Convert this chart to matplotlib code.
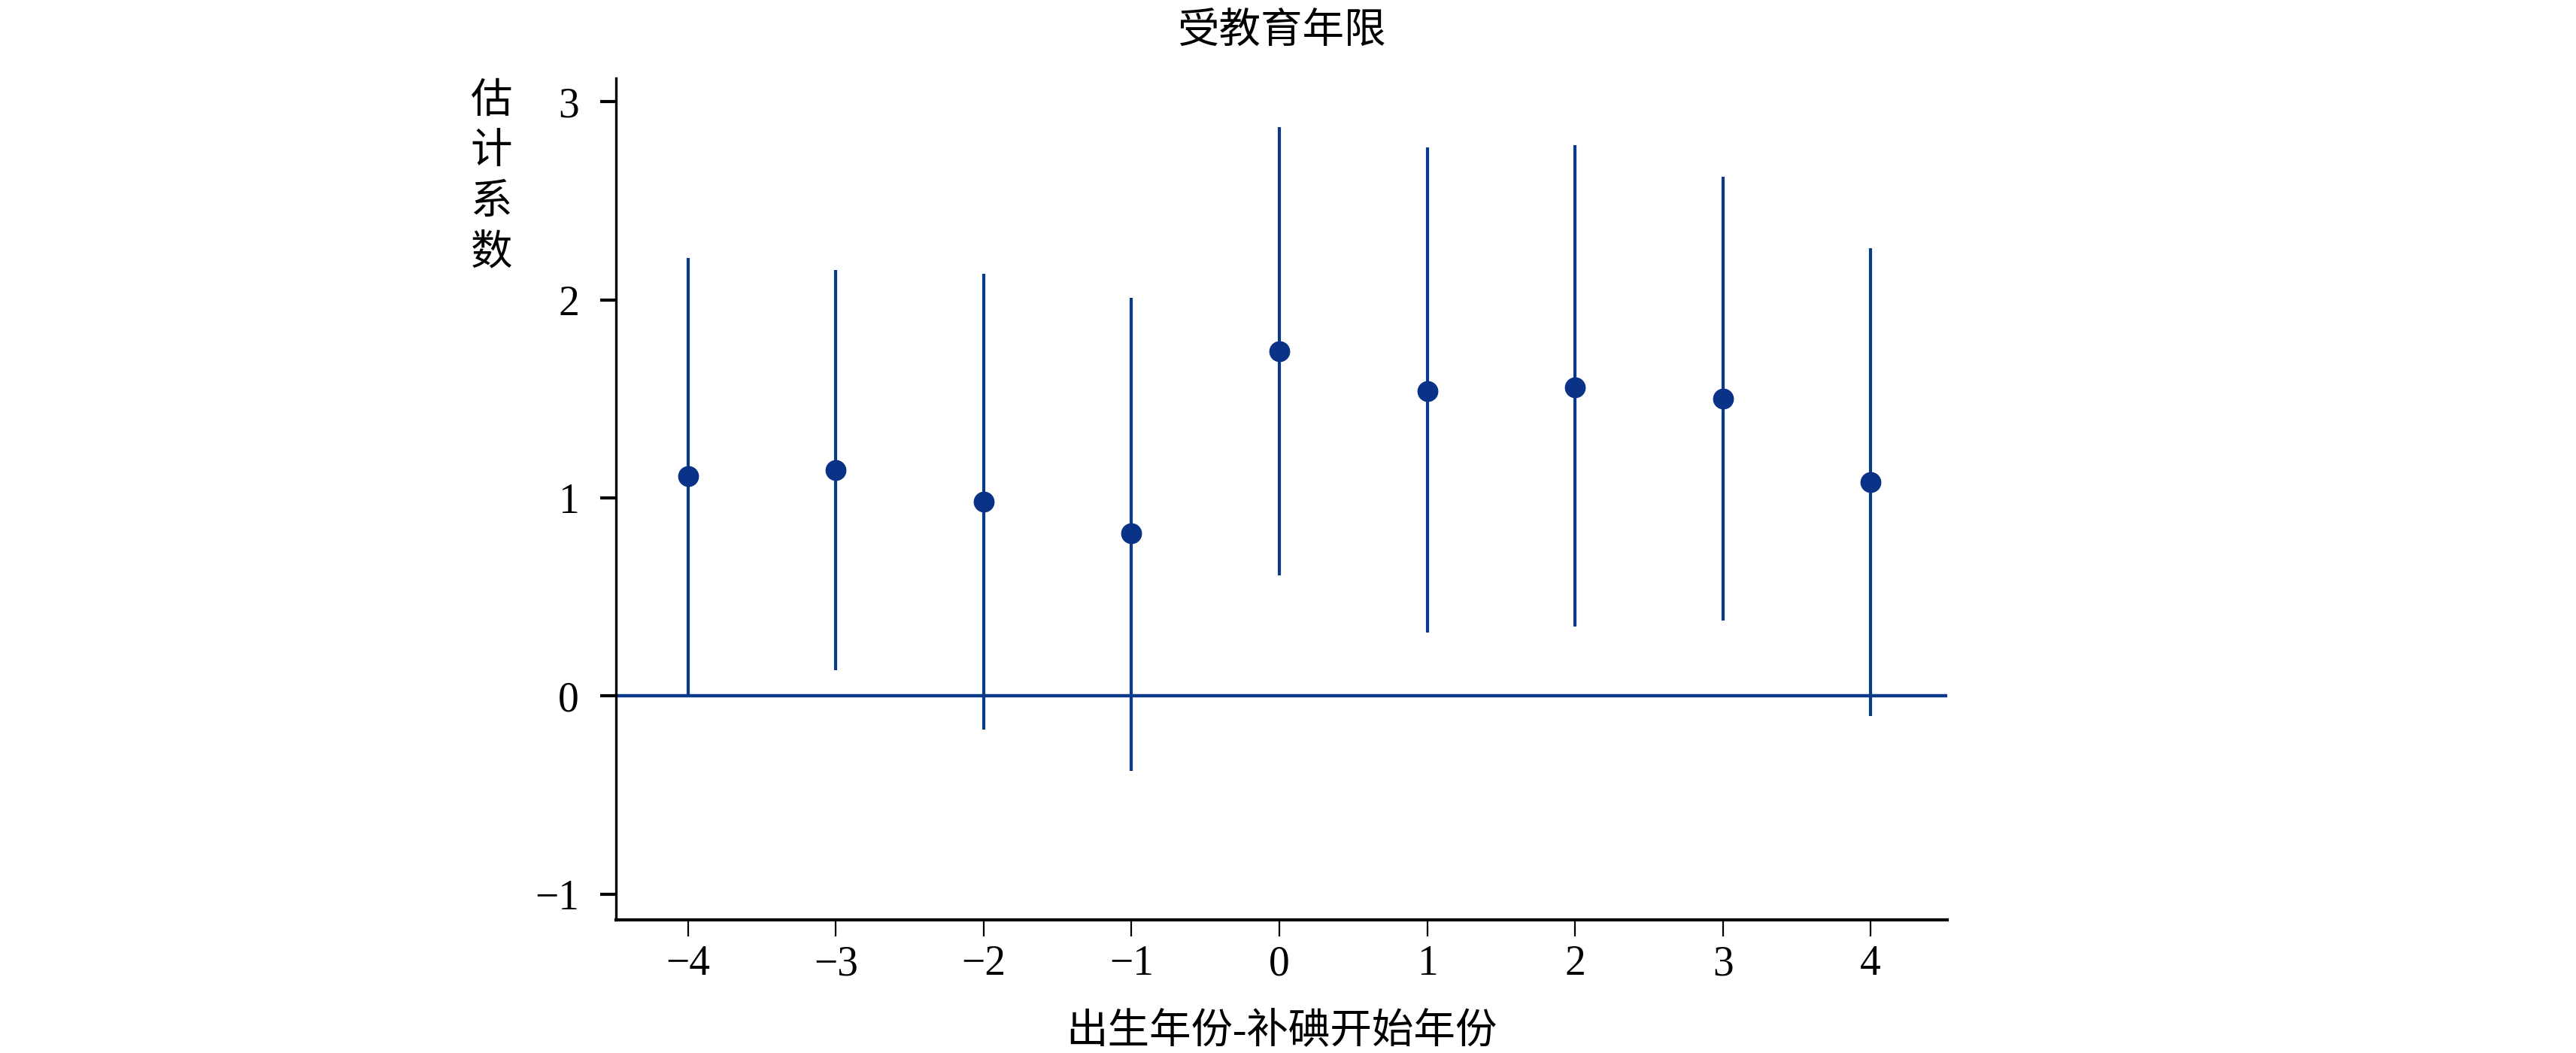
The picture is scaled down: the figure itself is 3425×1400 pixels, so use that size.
import numpy as np
import matplotlib
matplotlib.use("Agg")
import matplotlib.pyplot as plt

# event-study estimates
rel_year = [-4, -3, -2, -1, 0, 1, 2, 3, 4]
coef = [1.11, 1.14, 0.98, 0.82, 1.74, 1.54, 1.56, 1.50, 1.08]
ci_low = [0.01, 0.13, -0.17, -0.38, 0.61, 0.32, 0.35, 0.38, -0.10]
ci_high = [2.21, 2.15, 2.13, 2.01, 2.87, 2.77, 2.78, 2.62, 2.26]

title = "受教育年限"
xlabel = "出生年份-补碘开始年份"
ylabel = "估计系数"

NAVY = "#0b3a8a"
DOT = "#0a3286"
FONT = ["Liberation Serif", "Noto Sans CJK SC"]

plt.rcParams["font.family"] = FONT

fig = plt.figure(figsize=(34.25, 14), dpi=100)
ax = fig.add_axes([0.239, 0.1264, 0.517, 0.7996])

ax.axhline(0, color=NAVY, lw=3.2, zorder=1)
ax.vlines(rel_year, ci_low, ci_high, color=NAVY, lw=3.0, zorder=2)
ax.plot(rel_year, coef, "o", color=DOT, ms=19, zorder=3)

ax.set_xlim(-4.49, 4.52)
ax.set_ylim(-1.13, 3.12)
ax.set_xticks(rel_year)
ax.set_yticks([-1, 0, 1, 2, 3])
ax.set_xticklabels([str(v).replace("-", "\u2212") for v in rel_year])
ax.set_yticklabels(["\u22121", "0", "1", "2", "3"])

for s in ["top", "right"]:
    ax.spines[s].set_visible(False)
ax.spines["left"].set_linewidth(2.4)
ax.spines["bottom"].set_linewidth(3.0)

ax.tick_params(axis="y", direction="out", length=15, width=3, labelsize=40, pad=20)
ax.tick_params(axis="x", direction="out", length=16, width=1.6, labelsize=40, pad=8)

fig.text(0.5 * (0.239 + 0.756), 0.969, title, ha="center", va="center",
         fontsize=40, family=FONT)
fig.text(0.5 * (0.239 + 0.756), 0.02, xlabel, ha="center", va="center",
         fontsize=40, family=FONT)
fig.text(0.1907, 0.831, "\n".join(ylabel), ha="center", va="center",
         fontsize=40, family=FONT, linespacing=1.38)

fig.savefig("out.png", dpi=100, facecolor="white")
